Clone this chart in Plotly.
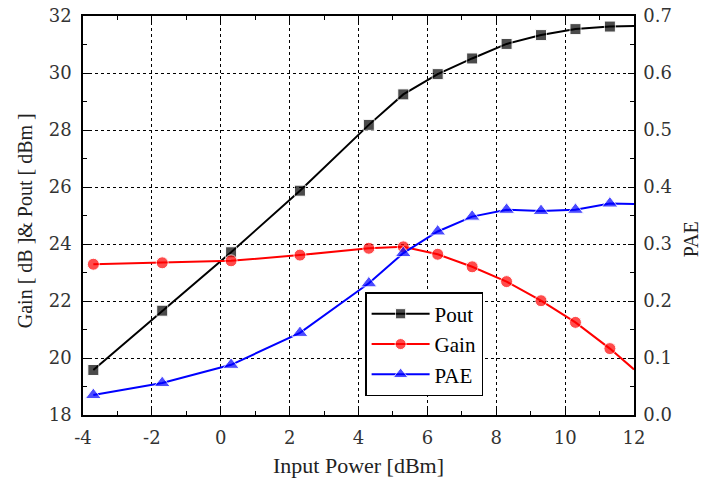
import plotly.graph_objects as go

x_in = [-3.7, -1.7, 0.3, 2.3, 4.3, 5.3, 6.3, 7.3, 8.3, 9.3, 10.3, 11.3, 12.0]
pout = [19.58, 21.66, 23.71, 25.87, 28.18, 29.25, 29.96, 30.51, 31.02, 31.33, 31.54, 31.63, 31.65]
gain = [23.29, 23.34, 23.41, 23.61, 23.85, 23.90, 23.64, 23.20, 22.68, 22.01, 21.25, 20.33, 19.60]
pae = [0.035, 0.056, 0.088, 0.144, 0.231, 0.284, 0.322, 0.348, 0.360, 0.358, 0.360, 0.371, 0.370]

x_ticks = [-4, -2, 0, 2, 4, 6, 8, 10, 12]
x_tick_text = ["-4", "-2", "0", "2", "4", "6", "8", "10", "12"]
y_left_ticks = [18, 20, 22, 24, 26, 28, 30, 32]
y_right_ticks = [0.0, 0.1, 0.2, 0.3, 0.4, 0.5, 0.6, 0.7]
y_right_text = ["0.0", "0.1", "0.2", "0.3", "0.4", "0.5", "0.6", "0.7"]

FONT = "Liberation Serif"
TICK_FONT = "DejaVu Serif"

# marker only on measured points (the last point is the line end)
n_marked = 12

def sizes(s):
    return [s] * n_marked + [0] * (len(x_in) - n_marked)

fig = go.Figure()
fig.add_trace(go.Scatter(x=x_in, y=pout, name="Pout", mode="lines+markers",
                         line=dict(color="black", width=2),
                         marker=dict(symbol="square", size=sizes(11), color="black")))
fig.add_trace(go.Scatter(x=x_in, y=gain, name="Gain", mode="lines+markers",
                         line=dict(color="red", width=2),
                         marker=dict(symbol="circle", size=sizes(12), color="red")))
fig.add_trace(go.Scatter(x=x_in, y=pae, name="PAE", mode="lines+markers", yaxis="y2",
                         line=dict(color="blue", width=2),
                         marker=dict(symbol="triangle-up", size=sizes(14), color="blue")))

tick_font = dict(family=TICK_FONT, size=18, color="#333")
title_font = dict(family=FONT, size=20, color="#222")
axis_common = dict(showline=True, linecolor="black", linewidth=1.5,
                   ticks="inside", ticklen=6, tickcolor="black",
                   tickfont=tick_font, zeroline=False, automargin=False)

fig.update_layout(
    width=706, height=480,
    margin=dict(l=83, r=72, t=16, b=65),
    paper_bgcolor="white", plot_bgcolor="white",
    font=dict(family=FONT, color="#222"),
    showlegend=True,
    legend=dict(x=0.512, y=0.308, xanchor="left", yanchor="top",
                bordercolor="black", borderwidth=1.5, bgcolor="white",
                font=dict(family=FONT, size=21, color="black"),
                itemwidth=58, tracegroupgap=0),
    xaxis=dict(range=[-4, 12], tickvals=x_ticks, ticktext=x_tick_text, mirror="ticks",
               showgrid=True, gridcolor="black", griddash="dot", gridwidth=1,
               minor=dict(ticks="inside", ticklen=4, dtick=1, tick0=0, tickcolor="black", showgrid=False),
               ticklabelstandoff=6,
               title=dict(text="Input Power [dBm]", font=dict(family=FONT, size=22, color="#222"), standoff=10),
               **axis_common),
    yaxis=dict(range=[18, 32], tickvals=y_left_ticks,
               showgrid=True, gridcolor="black", griddash="dot", gridwidth=1,
               minor=dict(ticks="inside", ticklen=4, dtick=1, tick0=0, tickcolor="black", showgrid=False),
               ticklabelstandoff=6,
               **axis_common),
    yaxis2=dict(range=[0, 0.7], tickvals=y_right_ticks, ticktext=y_right_text,
                overlaying="y", side="right", showgrid=False,
                minor=dict(ticks="inside", ticklen=4, dtick=0.05, tick0=0, tickcolor="black", showgrid=False),
                ticklabelstandoff=4,
                **axis_common),
    annotations=[
        dict(text="Gain [ dB ]& Pout [ dBm ]", xref="paper", yref="paper",
             x=-0.105, y=0.486, xanchor="center", yanchor="middle",
             textangle=-90, showarrow=False, font=title_font),
        dict(text="PAE", xref="paper", yref="paper",
             x=1.105, y=0.44, xanchor="center", yanchor="middle",
             textangle=-90, showarrow=False, font=title_font),
    ],
)

fig.write_html("out.html")
